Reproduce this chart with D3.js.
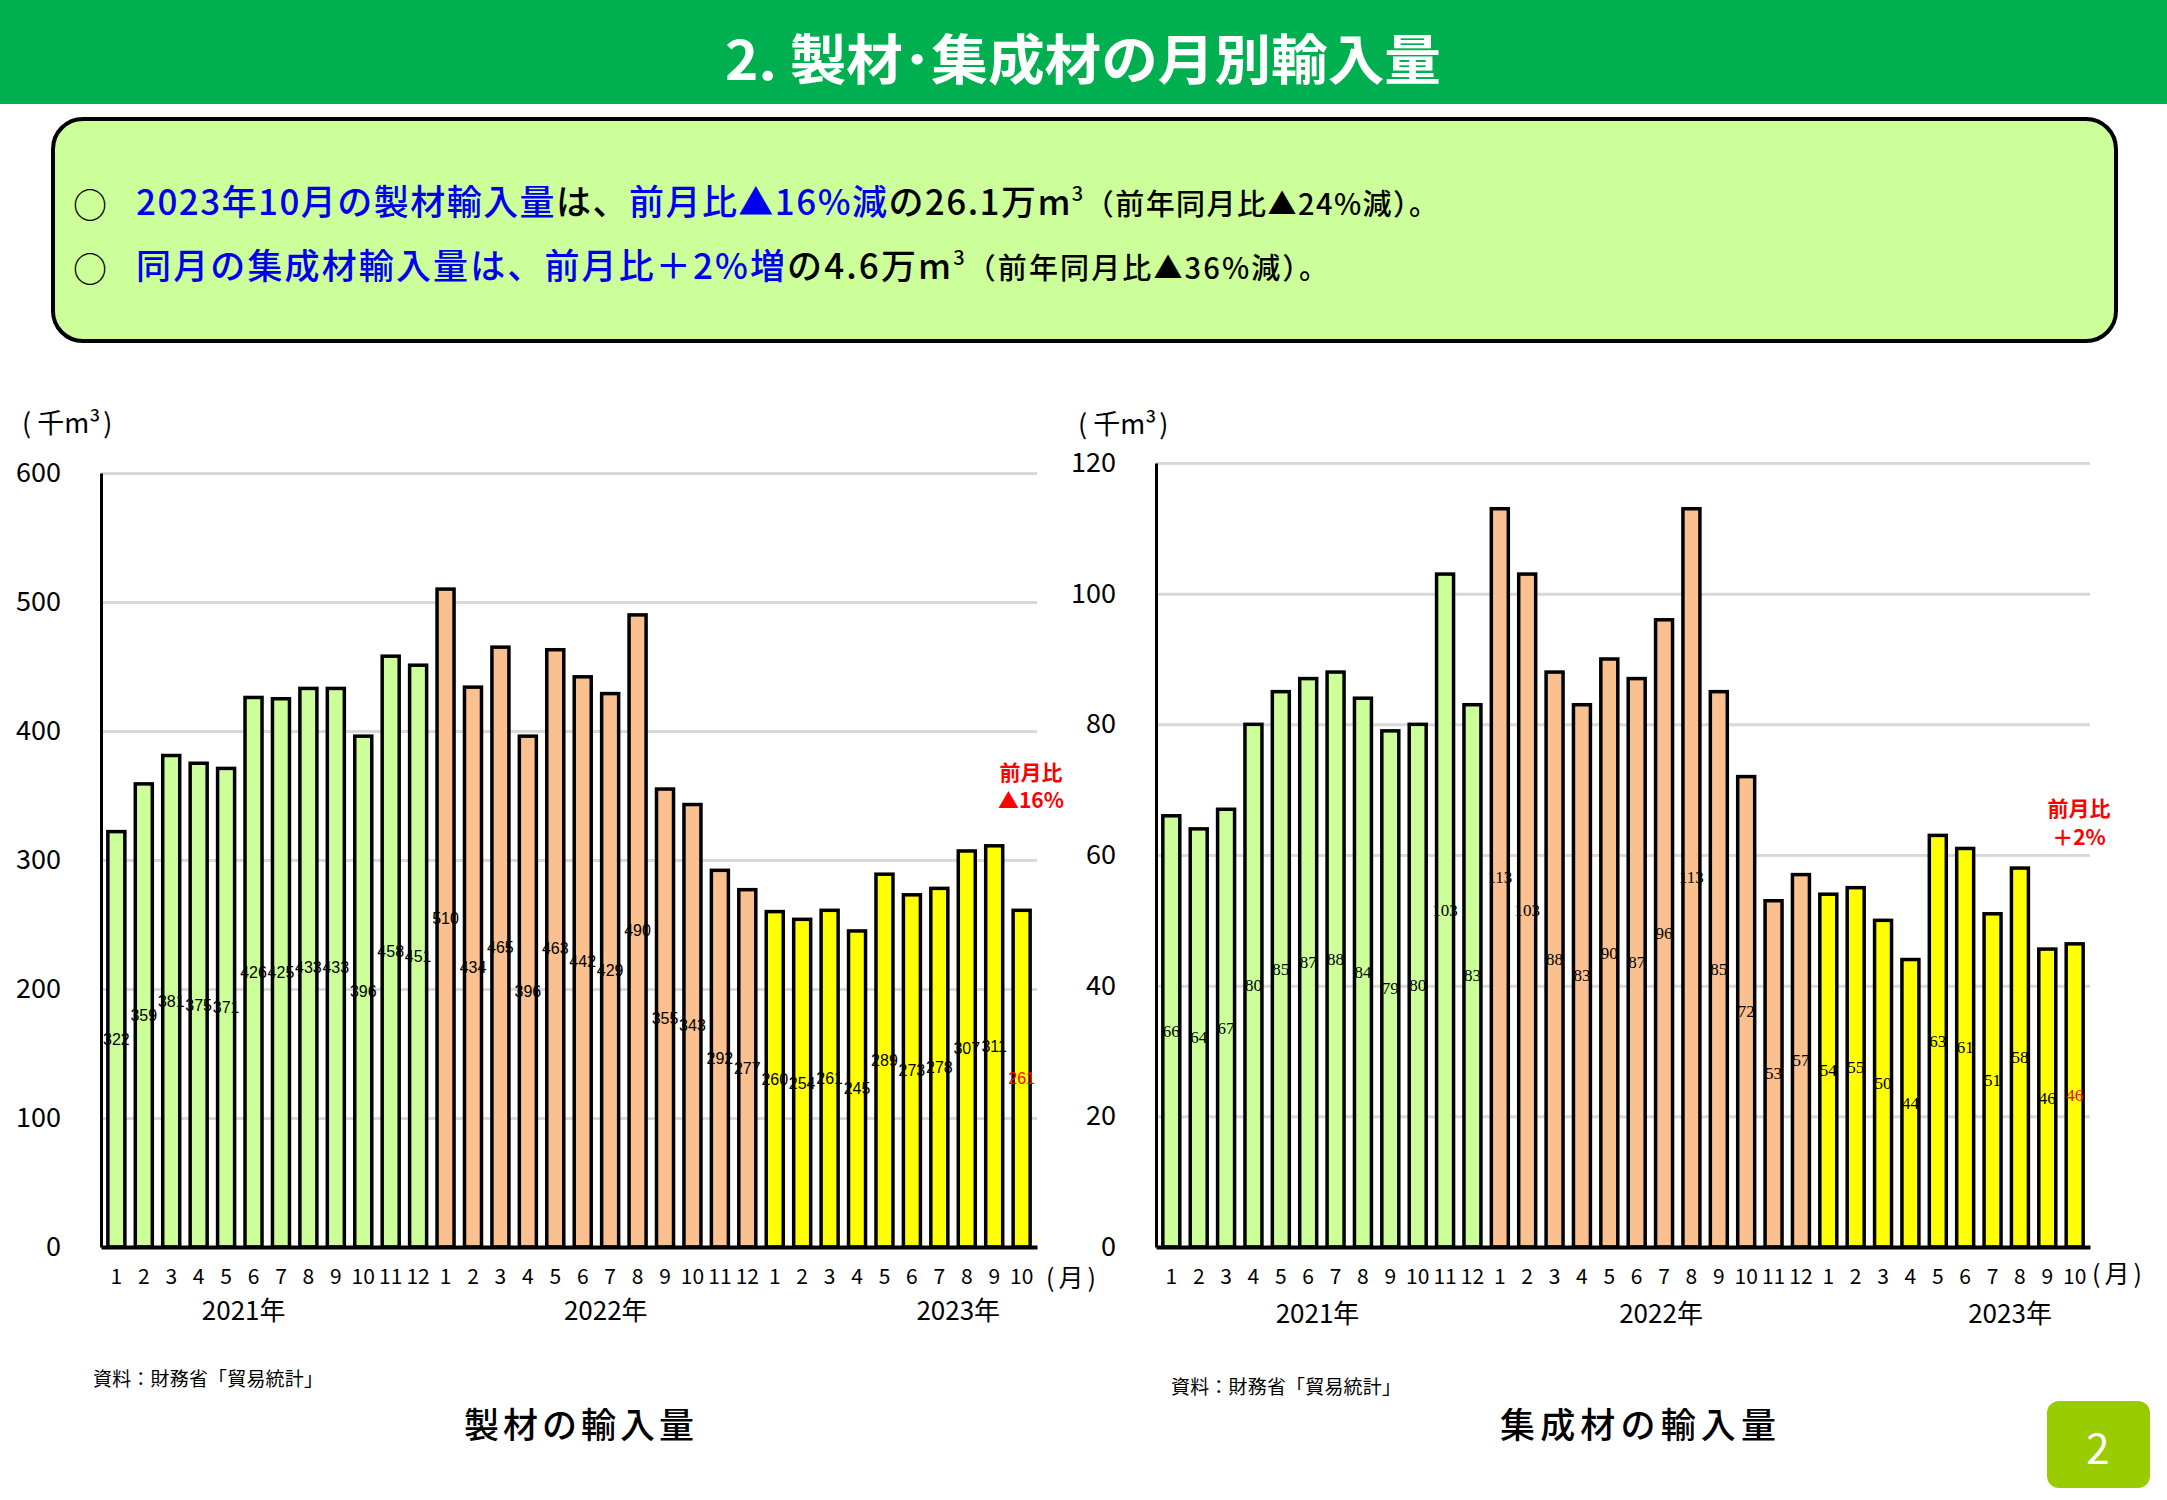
<!DOCTYPE html>
<html><head><meta charset="utf-8">
<script src="https://cdn.jsdelivr.net/npm/d3@7"></script>
<style>body{margin:0;background:#fff}svg{display:block}</style>
</head><body>
<svg id="c" width="2167" height="1500"></svg>
<script>
// ---------------- data ----------------
const months = ["1","2","3","4","5","6","7","8","9","10","11","12",
                "1","2","3","4","5","6","7","8","9","10","11","12",
                "1","2","3","4","5","6","7","8","9","10"];
const years = ["2021年","2022年","2023年"];
const sawnValues = [322,359,381,375,371,426,425,433,433,396,458,451,
                    510,434,465,396,463,442,429,490,355,343,292,277,
                    260,254,261,245,289,273,278,307,311,261];
const glulamValues = [66,64,67,80,85,87,88,84,79,80,103,83,
                      113,103,88,83,90,87,96,113,85,72,53,57,
                      54,55,50,44,63,61,51,58,45.6,46.4];
const sawnTicks = [0,100,200,300,400,500,600];
const glulamTicks = [0,20,40,60,80,100,120];
const yearColors = ["#CCFF99","#FAC090","#FFFF00"];

const FONT = "'Noto Sans CJK JP','Noto Sans',sans-serif";
const svg = d3.select("#c");

// year index per bar (derived from month labels)
let yc = -1;
const yearIdx = months.map(m => m === "1" ? ++yc : yc);

// ---------------- header ----------------
svg.append("rect").attr("x",0).attr("y",0).attr("width",2167).attr("height",104).attr("fill","#00B050");
svg.append("text").attr("x",725).attr("y",56).attr("dominant-baseline","central")
  .attr("font-family",FONT).attr("font-weight",700).attr("font-size",54).attr("fill","#fff")
  .attr("textLength",716).attr("lengthAdjust","spacingAndGlyphs")
  .text("2. 製材･集成材の月別輸入量");

// summary box
svg.append("rect").attr("x",53).attr("y",119).attr("width",2063).attr("height",222)
  .attr("rx",30).attr("ry",30).attr("fill","#CCFF99").attr("stroke","#000").attr("stroke-width",4);

const BLUE = "#0000EE";
const lines = [
  {y:203, len:1302, segs:[
    {t:"2023年10月の製材輸入量", c:BLUE},
    {t:"は、", c:"#000"},
    {t:"前月比▲16%減", c:BLUE},
    {t:"の26.1万m", c:"#000"},
    {t:"3", c:"#000", sup:true},
    {t:"（前年同月比▲24%減）。", c:"#000", small:true}]},
  {y:267, len:1192, segs:[
    {t:"同月の集成材輸入量は、前月比＋2%増", c:BLUE},
    {t:"の4.6万m", c:"#000"},
    {t:"3", c:"#000", sup:true},
    {t:"（前年同月比▲36%減）。", c:"#000", small:true}]}
];
lines.forEach(L => {
  svg.append("text").attr("x",90).attr("y",L.y).attr("text-anchor","middle").attr("dominant-baseline","central")
    .attr("font-family",FONT).attr("font-size",34).attr("fill","#000").text("○");
  const t = svg.append("text").attr("x",136).attr("y",L.y+12)
    .attr("font-family",FONT).attr("font-size",35).attr("font-weight",500)
    .attr("textLength",L.len).attr("lengthAdjust","spacing");
  let shifted = false;
  L.segs.forEach(s => {
    const sp = t.append("tspan").attr("fill",s.c).text(s.t);
    if (s.sup) { sp.attr("font-size",20).attr("dy",-14); shifted = true; }
    else if (shifted) { sp.attr("dy",14); shifted = false; }
    if (s.small) sp.attr("font-size",29);
  });
});

// ---------------- charts ----------------
function drawChart(o){
  const g = svg.append("g");
  const x = d3.scaleBand().domain(d3.range(months.length)).range([o.x0,o.x1])
    .paddingInner(0.38).paddingOuter(0.25);
  const y = d3.scaleLinear().domain([0, d3.max(o.ticks)]).range([o.yb, o.yt]);

  // grid
  g.append("g").attr("transform",`translate(${o.x0},0)`)
    .call(d3.axisLeft(y).tickValues(o.ticks.filter(t=>t>0)).tickSize(-(o.x1-o.x0)).tickFormat(""))
    .call(s=>s.select(".domain").remove())
    .selectAll("line").attr("stroke","#D9D9D9").attr("stroke-width",3);

  // bars
  g.append("g").selectAll("rect").data(o.values).join("rect")
    .attr("x",(d,i)=>x(i)).attr("y",d=>y(d))
    .attr("width",x.bandwidth()).attr("height",d=>y(0)-y(d))
    .attr("fill",(d,i)=>yearColors[yearIdx[i]])
    .attr("stroke","#000").attr("stroke-width",3.5);

  // y axis
  const ya = g.append("g").attr("transform",`translate(${o.x0},0)`)
    .call(d3.axisLeft(y).tickValues(o.ticks).tickSize(0).tickSizeOuter(0).tickPadding(40));
  ya.select(".domain").attr("stroke","#000").attr("stroke-width",3);
  ya.selectAll("text").attr("font-family",FONT).attr("font-size",27).attr("fill","#000");

  // x axis
  const xa = g.append("g").attr("transform",`translate(0,${o.yb})`)
    .call(d3.axisBottom(x).tickFormat(i=>months[i]).tickSize(0).tickSizeOuter(0));
  xa.select(".domain").attr("stroke","#000").attr("stroke-width",4);
  xa.selectAll("text").attr("y",30).attr("dy","0.35em")
    .attr("font-family",FONT).attr("font-size",21).attr("fill","#000");

  // value labels (middle of bar)
  g.append("g").selectAll("text").data(o.values).join("text")
    .attr("x",(d,i)=>x(i)+x.bandwidth()/2).attr("y",d=>(y(d)+y(0))/2)
    .attr("text-anchor","middle").attr("dominant-baseline","central")
    .attr("font-family",o.labelFont).attr("font-size",o.labelSize)
    .attr("fill",(d,i)=> i===o.values.length-1 ? "#FF0000" : "#000")
    .text(d=>Math.round(d));

  // year labels
  years.forEach((yr,k)=>{
    g.append("text").attr("x",o.x0 + o.yearPos[k]*x.step()).attr("y",o.yearY)
      .attr("text-anchor","middle").attr("dominant-baseline","central")
      .attr("font-family",FONT).attr("font-size",26).attr("fill","#000").text(yr);
  });

  // month unit
  g.append("text").attr("x",o.monX).attr("y",o.monY).attr("dominant-baseline","central")
    .attr("font-family",FONT).attr("font-size",25).attr("fill","#000")
    .attr("letter-spacing",4).text("(月)");

  // y unit
  const u = g.append("text").attr("x",o.unitX).attr("y",o.unitY).attr("dominant-baseline","central")
    .attr("font-family",FONT).attr("font-size",27).attr("fill","#000");
  u.append("tspan").text("(");
  u.append("tspan").attr("dx",6).text("千m³");
  u.append("tspan").attr("dx",3).text(")");

  // month-on-month annotation
  o.note.forEach((s,k)=>{
    g.append("text").attr("x",o.noteX).attr("y",o.noteY[k]).attr("text-anchor","middle")
      .attr("dominant-baseline","central").attr("font-family",FONT).attr("font-weight",700)
      .attr("font-size",21).attr("fill","#FF0000").text(s);
  });

  // source
  g.append("text").attr("x",o.srcX).attr("y",o.srcY).attr("dominant-baseline","central")
    .attr("font-family",FONT).attr("font-size",19).attr("fill","#000")
    .attr("textLength",230).attr("lengthAdjust","spacing").text("資料：財務省「貿易統計」");

  // chart title
  g.append("text").attr("x",o.titleX).attr("y",1422).attr("dominant-baseline","central")
    .attr("font-family",FONT).attr("font-size",35).attr("font-weight",500).attr("fill","#000")
    .attr("textLength",o.titleLen).attr("lengthAdjust","spacing").text(o.title);
}

drawChart({x0:101, x1:1037, yt:473, yb:1247, values:sawnValues, ticks:sawnTicks,
  labelFont:"'Liberation Sans',sans-serif", labelSize:16,
  yearPos:[5.2,18.4,31.25], yearY:1308, monX:1046, monY:1276,
  unitX:22, unitY:421, note:["前月比","▲16%"], noteX:1031, noteY:[771,799],
  srcX:93, srcY:1377, title:"製材の輸入量", titleX:464, titleLen:230});

drawChart({x0:1156, x1:2090, yt:463, yb:1247, values:glulamValues, ticks:glulamTicks,
  labelFont:"'Liberation Serif',serif", labelSize:17,
  yearPos:[5.9,18.45,31.2], yearY:1311, monX:2092, monY:1272,
  unitX:1078, unitY:422, note:["前月比","＋2%"], noteX:2079, noteY:[807,836],
  srcX:1171, srcY:1385, title:"集成材の輸入量", titleX:1500, titleLen:276});

// page number
svg.append("rect").attr("x",2047).attr("y",1401).attr("width",103).attr("height",87)
  .attr("rx",12).attr("fill","#99CC00");
svg.append("text").attr("x",2098).attr("y",1445).attr("text-anchor","middle").attr("dominant-baseline","central")
  .attr("font-family",FONT).attr("font-size",42).attr("fill","#fff").text("2");
</script>
</body></html>
